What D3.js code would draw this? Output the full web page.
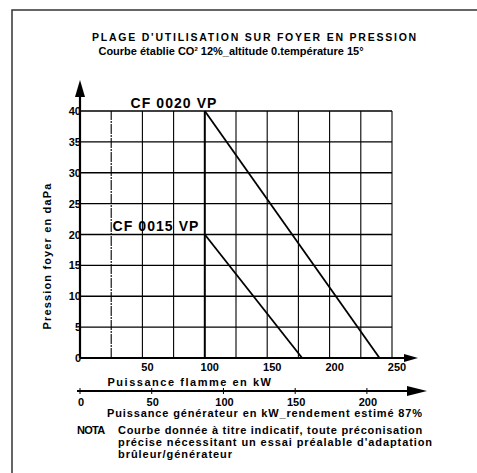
<!DOCTYPE html>
<html>
<head>
<meta charset="utf-8">
<script src="https://cdn.jsdelivr.net/npm/d3@7"></script>
<style>
  body { margin: 0; background: #fff; }
  text { font-family: "Liberation Sans", Arial, sans-serif; fill: #000; }
</style>
</head>
<body>
<svg id="chart" width="477" height="473"></svg>
<script>
// data
var flameTicks = [50, 100, 150, 200, 250];
var gridX = [25, 50, 75, 100, 125, 150, 175, 200, 225, 250];
var pressureTicks = [0, 5, 10, 15, 20, 25, 30, 35, 40];
var genTicks = [0, 50, 100, 150, 200];
var efficiency = 0.87;

var cf0020 = [{kw: 100, p: 40}, {kw: 240, p: 0}];
var cf0015 = [{kw: 100, p: 20}, {kw: 178, p: 0}];

var svg = d3.select('#chart');

// stretch a text to the width it has in the scan (two passes)
function fit(t, w) {
  var n = t.text().length;
  var ls = 0;
  for (var k = 0; k < 2; k++) {
    var len = t.node().getBBox();
    len = Math.max(len.width, len.height);
    ls += (w - len) / n;
    t.style('letter-spacing', ls + 'px');
  }
  return t;
}

// scan frame
svg.append('path').attr('d', 'M12,473 L12,10 L477,10')
  .attr('fill', 'none').attr('stroke', '#333').attr('stroke-width', 1.5);

// titles
fit(svg.append('text').attr('x', 255).attr('y', 41).attr('text-anchor', 'middle')
  .style('font-size', '10.5px').style('font-weight', 'bold')
  .text("PLAGE D'UTILISATION SUR FOYER EN  PRESSION"), 326);
var sub = svg.append('text').attr('x', 231).attr('y', 55).attr('text-anchor', 'middle')
  .style('font-size', '11px').style('font-weight', 'bold');
sub.append('tspan').text('Courbe établie CO');
sub.append('tspan').attr('dy', -4).style('font-size', '6px').text('2');
sub.append('tspan').attr('dy', 4).text(' 12%_altitude 0.température 15°');

var x = d3.scaleLinear().domain([0, 250]).range([80, 392]);
var y = d3.scaleLinear().domain([0, 40]).range([358, 111]);

// grid
svg.append('g').selectAll('line').data(gridX).enter().append('line')
  .attr('x1', function(d) { return x(d); }).attr('x2', function(d) { return x(d); })
  .attr('y1', y(0)).attr('y2', y(40))
  .attr('stroke', '#000').attr('stroke-width', function(d) { return d == 100 ? 2 : 1.1; })
  .attr('stroke-dasharray', function(d) { return d == 25 ? '10,1,2,1' : null; });

svg.append('g').selectAll('line').data(pressureTicks.slice(1)).enter().append('line')
  .attr('x1', x(0)).attr('x2', x(250))
  .attr('y1', function(d) { return y(d); }).attr('y2', function(d) { return y(d); })
  .attr('stroke', '#000').attr('stroke-width', 1.3);

// axes with arrows
svg.append('line').attr('x1', x(0)).attr('x2', 408).attr('y1', y(0)).attr('y2', y(0))
  .attr('stroke', '#000').attr('stroke-width', 2.2);
svg.append('path').attr('d', 'M404,' + (y(0) - 4) + ' L418,' + y(0) + ' L404,' + (y(0) + 4) + 'Z');
svg.append('line').attr('x1', x(0)).attr('x2', x(0)).attr('y1', y(0)).attr('y2', 94)
  .attr('stroke', '#000').attr('stroke-width', 2.2);
svg.append('path').attr('d', 'M' + (x(0) - 5) + ',97 L' + x(0) + ',80 L' + (x(0) + 5) + ',97Z');

// tick labels
svg.append('g').selectAll('text').data(pressureTicks).enter().append('text')
  .attr('x', x(0) + 1).attr('y', function(d) { return y(d) + 4; })
  .attr('text-anchor', 'end').style('font-size', '11px').style('font-weight', 'bold')
  .text(function(d) { return d; });
svg.append('g').selectAll('text').data(flameTicks).enter().append('text')
  .attr('x', function(d) { return x(d) + 5; }).attr('y', 371)
  .attr('text-anchor', 'middle').style('font-size', '11px').style('font-weight', 'bold')
  .text(function(d) { return d; });

fit(svg.append('text').attr('transform', 'translate(51,256) rotate(-90)')
  .attr('text-anchor', 'middle').style('font-size', '11px').style('font-weight', 'bold')
  .text('Pression foyer en daPa'), 147);
fit(svg.append('text').attr('x', 190).attr('y', 386).attr('text-anchor', 'middle')
  .style('font-size', '11px').style('font-weight', 'bold')
  .text('Puissance flamme en kW'), 165);

// curves
var line = d3.line().x(function(d) { return x(d.kw); }).y(function(d) { return y(d.p); });
[cf0020, cf0015].forEach(function(s) {
  svg.append('path').datum(s).attr('d', line)
    .attr('fill', 'none').attr('stroke', '#000').attr('stroke-width', 1.8);
});
fit(svg.append('text').attr('x', 174).attr('y', 108).attr('text-anchor', 'middle')
  .style('font-size', '14px').style('font-weight', 'bold').text('CF 0020 VP'), 87);
fit(svg.append('text').attr('x', 156).attr('y', 231).attr('text-anchor', 'middle')
  .style('font-size', '14px').style('font-weight', 'bold').text('CF 0015 VP'), 87);

// generator power axis (flame * 87%)
var g = d3.scaleLinear().domain([0, 250 * efficiency]).range([80, 392]);
svg.append('line').attr('x1', 77).attr('x2', 410).attr('y1', 391).attr('y2', 391)
  .attr('stroke', '#000').attr('stroke-width', 2.2);
svg.append('path').attr('d', 'M407,386 L427,391 L407,396Z');
svg.append('g').selectAll('line').data(genTicks).enter().append('line')
  .attr('x1', function(d) { return g(d); }).attr('x2', function(d) { return g(d); })
  .attr('y1', 388).attr('y2', 394).attr('stroke', '#000').attr('stroke-width', 1);
svg.append('g').selectAll('text').data(genTicks).enter().append('text')
  .attr('x', function(d) { return g(d) + 1; }).attr('y', 406)
  .attr('text-anchor', 'middle').style('font-size', '11px').style('font-weight', 'bold')
  .text(function(d) { return d; });
fit(svg.append('text').attr('x', 265).attr('y', 417).attr('text-anchor', 'middle')
  .style('font-size', '11px').style('font-weight', 'bold')
  .text('Puissance générateur en kW_rendement estimé 87%'), 316);

// note
var nota = [
  ['Courbe donnée à titre indicatif, toute préconisation', 305],
  ['précise nécessitant un essai préalable d\'adaptation', 315],
  ['brûleur/générateur', 115]
];
fit(svg.append('text').attr('x', 77).attr('y', 434).style('font-size', '11px')
  .style('font-weight', 'bold').text('NOTA'), 28);
svg.append('g').selectAll('text').data(nota).enter().append('text')
  .attr('x', 118).attr('y', function(d, i) { return 434 + i * 12; })
  .style('font-size', '11px').style('font-weight', 'bold')
  .text(function(d) { return d[0]; })
  .each(function(d) { fit(d3.select(this), d[1]); });
</script>
</body>
</html>
